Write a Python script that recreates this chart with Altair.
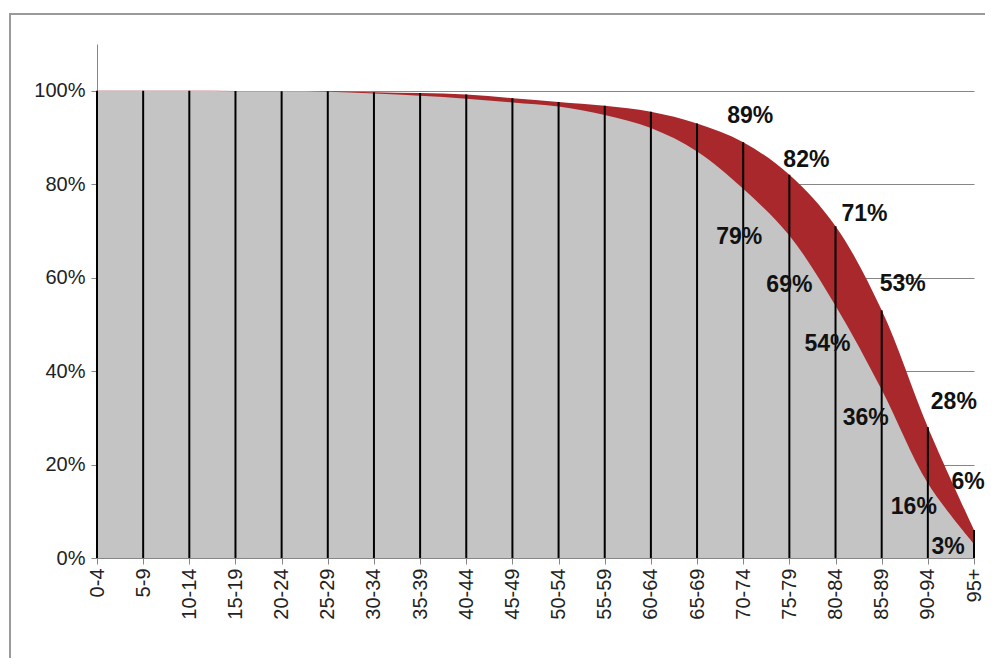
import altair as alt
import pandas as pd

# ---- data ----
age_groups = ["0-4", "5-9", "10-14", "15-19", "20-24", "25-29", "30-34", "35-39",
              "40-44", "45-49", "50-54", "55-59", "60-64", "65-69", "70-74",
              "75-79", "80-84", "85-89", "90-94", "95+"]
upper_pct = [100, 100, 100, 99.95, 99.9, 99.9, 99.7, 99.5, 99.2, 98.4,
             97.6, 96.8, 95.5, 93.0, 89, 82, 71, 53, 28, 6]
lower_pct = [100, 100, 100, 99.9, 99.9, 99.8, 99.4, 98.9, 98.3, 97.5,
             96.6, 94.8, 92.0, 87.0, 79, 69, 54, 36, 16, 3]
labelled_groups = ["70-74", "75-79", "80-84", "85-89", "90-94", "95+"]

# label nudges (pixels), styling only
upper_nudge_x = [7, 17, 29, 21, 26, -6]
upper_nudge_y = [-26, -15, -12, -26, -25, -48]
lower_nudge_x = [-4, 0, -8, -16, -14, -26]
lower_nudge_y = [48, 49, 38, 28, 24, 3]

PLOT_W, PLOT_H, Y_MAX = 877, 514, 110
PX_PER_UNIT = PLOT_H / Y_MAX

df = pd.DataFrame({"age": age_groups, "upper": upper_pct, "lower": lower_pct})
df["zero"] = 0

lab = df[df["age"].isin(labelled_groups)].copy()
lab["ux"] = upper_nudge_x
lab["uy"] = upper_nudge_y
lab["lx"] = lower_nudge_x
lab["ly"] = lower_nudge_y
lab["utext"] = lab["upper"].round(0).astype(int).astype(str) + "%"
lab["ltext"] = lab["lower"].round(0).astype(int).astype(str) + "%"

FONT = "Liberation Sans"
AXIS_GRAY = "#868686"

x_enc = alt.X("age:N", sort=age_groups,
              scale=alt.Scale(type="point", padding=0),
              axis=alt.Axis(title=None, labelAngle=-90, labelAlign="right",
                            labelBaseline="middle", labelFontSize=20,
                            labelFont=FONT, labelColor="#222222",
                            tickSize=6, tickColor=AXIS_GRAY,
                            domainColor=AXIS_GRAY, labelPadding=4, grid=False))
y_scale = alt.Scale(domain=[0, Y_MAX], nice=False)
y_axis = alt.Axis(title=None, values=[0, 20, 40, 60, 80, 100],
                  labelExpr="datum.value + '%'", labelFontSize=20, labelFont=FONT,
                  labelColor="#222222", tickSize=6, tickColor=AXIS_GRAY,
                  domainColor=AXIS_GRAY, gridColor=AXIS_GRAY, gridWidth=1,
                  grid=True, labelPadding=6)

base = alt.Chart(df)
x_plain = alt.X("age:N", sort=age_groups)

red_area = base.mark_area(color="#a8282c", interpolate="catmull-rom").encode(
    x=x_enc, y=alt.Y("upper:Q", scale=y_scale, axis=y_axis)
)
gray_area = base.mark_area(color="#c4c4c4", interpolate="catmull-rom").encode(
    x=x_plain, y=alt.Y("lower:Q")
)
drops = base.mark_rule(color="#000000", strokeWidth=2).encode(
    x=x_plain, y=alt.Y("upper:Q"), y2=alt.Y2("zero:Q")
)

lab_base = alt.Chart(lab).transform_calculate(
    uy_pos=f"datum.upper - datum.uy / {PX_PER_UNIT}",
    ly_pos=f"datum.lower - datum.ly / {PX_PER_UNIT}",
)
text_style = dict(font=FONT, fontSize=23, fontWeight="bold", color="#111111",
                  baseline="middle", align="center")
upper_text = lab_base.mark_text(**text_style).encode(
    x=x_plain, y=alt.Y("uy_pos:Q"),
    xOffset=alt.XOffset("ux:Q", scale=None),
    text="utext:N")
lower_text = lab_base.mark_text(**text_style).encode(
    x=x_plain, y=alt.Y("ly_pos:Q"),
    xOffset=alt.XOffset("lx:Q", scale=None),
    text="ltext:N")

frame = alt.Chart(alt.Data(values=[{"f": 1}])).mark_rect(
    fill=None, filled=False, stroke="#9a9a9a", strokeWidth=2).encode(
    x=alt.value(-87), y=alt.value(-30), x2=alt.value(2000), y2=alt.value(2000))

chart = alt.layer(frame, red_area, gray_area, drops, upper_text, lower_text).properties(
    width=PLOT_W, height=PLOT_H,
    autosize=alt.AutoSizeParams(type="none"),
    padding={"left": 89, "top": 36, "right": 11, "bottom": 100},
    background="white",
).configure_view(stroke=None)

chart.save("out.html", embed_options={"renderer": "svg", "actions": False})
